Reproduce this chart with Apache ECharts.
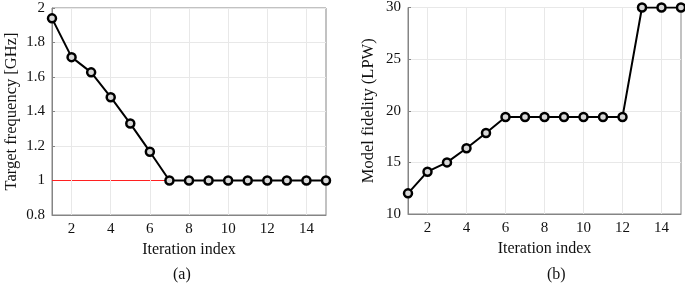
<!DOCTYPE html>
<html><head><meta charset="utf-8">
<script src="https://cdn.jsdelivr.net/npm/echarts@6/dist/echarts.min.js"></script>
<style>html,body{margin:0;padding:0;background:#fff}#c{width:685px;height:285px}</style>
</head><body><div id="c"></div>
<script>
const iterations = [1,2,3,4,5,6,7,8,9,10,11,12,13,14,15];
const targetFreq = [1.94,1.715,1.627,1.483,1.33,1.167,1,1,1,1,1,1,1,1,1];
const modelFidelity = [12,14.1,15,16.37,17.85,19.4,19.4,19.4,19.4,19.4,19.4,19.4,30,30,30];
const refFreq = 1;
const xTicks = [2,4,6,8,10,12,14];
const leftTitle = 'Target frequency [GHz]';
const rightTitle = 'Model fidelity (LPW)';
const xTitle = 'Iteration index';
const panelLabels = ['(a)','(b)'];

const font = 'Liberation Serif';
const txt = '#111';
const chart = echarts.init(document.getElementById('c'));
const pair = (ys) => iterations.map((x,i)=>[x,ys[i]]);
function xAxis(idx){
  return {gridIndex:idx,type:'value',min:1,max:15,
    name:xTitle,nameLocation:'middle',nameGap:27,
    nameTextStyle:{fontFamily:font,fontSize:16,color:txt},
    axisLine:{show:true,lineStyle:{color:'#858585'}},
    axisTick:{show:true,inside:true,length:3,customValues:xTicks,lineStyle:{color:'#858585'}},
    axisLabel:{customValues:xTicks,fontFamily:font,fontSize:15,color:txt,margin:7},
    splitLine:{show:false}};
}
function yAxis(idx,min,max,interval,name,gap){
  return {gridIndex:idx,type:'value',min:min,max:max,interval:interval,
    name:name,nameLocation:'middle',nameGap:gap,
    nameTextStyle:{fontFamily:font,fontSize:16.5,color:txt},
    axisLine:{show:true,lineStyle:{color:'#858585'}},
    axisTick:{show:true,inside:true,length:3,lineStyle:{color:'#858585'}},
    axisLabel:{fontFamily:font,fontSize:15,color:txt,margin:7},
    splitLine:{show:true,lineStyle:{color:'#e8e8e8',width:1}}};
}
const vLines = xTicks.map(v=>({xAxis:v}));
function gridMark(){
  return {silent:true,symbol:'none',label:{show:false},
    lineStyle:{color:'#e8e8e8',width:1,type:'solid'},data:vLines,animation:false};
}
const lineSeries = (idx,ys)=>({type:'line',xAxisIndex:idx,yAxisIndex:idx,data:pair(ys),
  symbol:'circle',symbolSize:8,showSymbol:true,z:5,
  lineStyle:{color:'#000',width:2},
  itemStyle:{color:'#d8d8d8',borderColor:'#000',borderWidth:2.5},
  markLine:gridMark()});
chart.setOption({
  animation:false,
  grid:[
    {left:52,right:359,top:8,bottom:70,show:true,borderColor:'#858585',borderWidth:1,backgroundColor:'transparent'},
    {left:408,right:4,top:7,bottom:71,show:true,borderColor:'#858585',borderWidth:1,backgroundColor:'transparent'}
  ],
  xAxis:[xAxis(0),xAxis(1)],
  yAxis:[yAxis(0,0.8,2,0.2,leftTitle,32),yAxis(1,10,30,5,rightTitle,31)],
  graphic:[
    {type:'text',left:173,top:267,style:{text:panelLabels[0],font:'16px "Liberation Serif"',fill:txt}},
    {type:'text',left:547,top:267,style:{text:panelLabels[1],font:'16px "Liberation Serif"',fill:txt}}
  ],
  series:[
    {type:'line',xAxisIndex:0,yAxisIndex:0,data:[[iterations[0],refFreq],[iterations[iterations.length-1],refFreq]],
      symbol:'none',lineStyle:{color:'#ff2020',width:1},z:3},
    lineSeries(0,targetFreq),
    lineSeries(1,modelFidelity)
  ]
});
</script></body></html>
